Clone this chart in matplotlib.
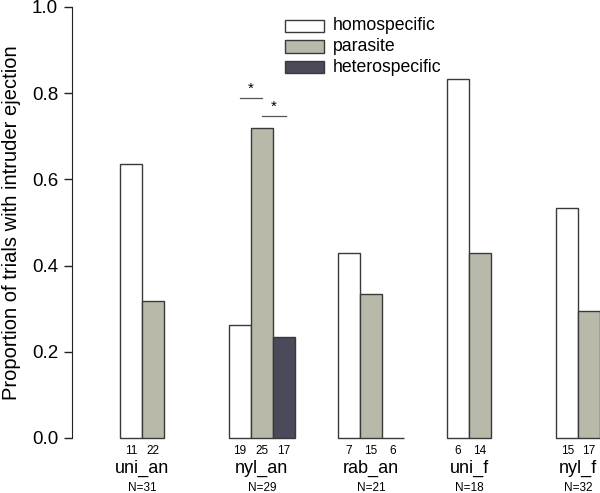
import matplotlib
matplotlib.use("Agg")
import matplotlib.pyplot as plt
from matplotlib.patches import Rectangle

plt.rcParams['font.family'] = ['Liberation Sans', 'DejaVu Sans']

groups = ["uni_an", "nyl_an", "rab_an", "uni_f", "nyl_f"]
group_n = ["N=31", "N=29", "N=21", "N=18", "N=32"]
series = ["homospecific", "parasite", "heterospecific"]
homo = [0.636, 0.263, 0.429, 0.833, 0.533]
para = [0.318, 0.720, 0.333, 0.429, 0.294]
hetero = [None, 0.235, 0.0, None, None]
n_homo = [11, 19, 7, 6, 15]
n_para = [22, 25, 15, 14, 17]
n_hetero = [None, 17, 6, None, None]
colors = ["#ffffff", "#b8b9a9", "#4a4a5a"]
edge = "#3a3a3a"

fig = plt.figure(figsize=(6.0, 4.93), dpi=100)
ax = fig.add_axes([72/600, 1-438/493, 1-72/600, (438-7)/493])
ax.set_xlim(-2.2, 22.0)
ax.set_ylim(0, 1.0)

W = 1.0
for g, name in enumerate(groups):
    vals = [homo[g], para[g], hetero[g]]
    ns = [n_homo[g], n_para[g], n_hetero[g]]
    present = []
    for s in range(3):
        if vals[s] is None:
            continue
        x = 5*g + s*W
        ax.bar(x, vals[s], width=W, align='edge', color=colors[s],
               edgecolor=edge, linewidth=1.0, clip_on=False)
        ax.text(x + W/2, -0.031, str(ns[s]), ha='center', va='center',
                fontsize=8.5, clip_on=False)
        present.append(x)
    cx = (present[0] + present[-1] + W) / 2
    ax.text(cx, -0.07, name, ha='center', va='center', fontsize=13, clip_on=False)
    ax.text(cx, -0.117, group_n[g], ha='center', va='center', fontsize=8.5, clip_on=False)

# significance marks
ax.plot([5 + 0.5, 5 + 1.5], [0.789, 0.789], color='#555555', lw=0.9)
ax.text(6.0, 0.795, "*", ha='center', va='bottom', fontsize=11)
ax.plot([6.5, 7.6], [0.747, 0.747], color='#555555', lw=0.9)
ax.text(7.05, 0.753, "*", ha='center', va='bottom', fontsize=11)

for sp in ['top', 'right', 'bottom']:
    ax.spines[sp].set_visible(False)
ax.spines['left'].set_color('#222222')
ax.set_xticks([])
ax.set_yticks([0, 0.2, 0.4, 0.6, 0.8, 1.0])
ax.set_yticklabels(["0.0", "0.2", "0.4", "0.6", "0.8", "1.0"], fontsize=13.5)
ax.tick_params(axis='y', length=6, width=1, colors='#222222', labelcolor='black', pad=4)
ax.set_ylabel("Proportion of trials with intruder ejection", fontsize=14.5, labelpad=8)

# legend drawn manually
for i, lab in enumerate(series):
    ytop = 20 + i*20.5
    y0 = 1 - (ytop + 12)/493
    fig.patches.append(Rectangle((285/600, y0), 39/600, 12/493, transform=fig.transFigure,
                                 facecolor=colors[i], edgecolor=edge, linewidth=1.0))
    fig.text(333/600, 1 - (ytop + 6)/493, lab, ha='left', va='center', fontsize=12.7)

fig.savefig("out.png", dpi=100)
